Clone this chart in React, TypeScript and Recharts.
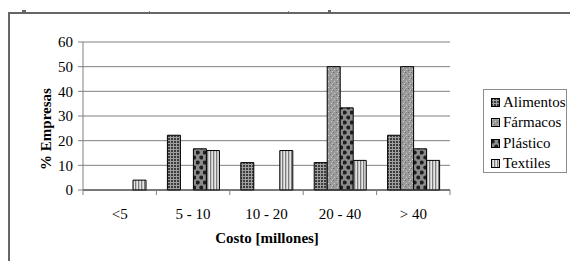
import React from 'react';
import { BarChart, Bar, XAxis, YAxis, CartesianGrid, Legend } from 'recharts';

const categories = ['<5', '5 - 10', '10 - 20', '20 - 40', '> 40'];
const alimentos = [0, 22.2, 11.1, 11.1, 22.2];
const farmacos = [0, 0, 0, 50, 50];
const plastico = [0, 16.7, 0, 33.3, 16.7];
const textiles = [4, 16, 16, 12, 12];
const yTicks = [0, 10, 20, 30, 40, 50, 60];

const seriesNames = ['Alimentos', 'Fármacos', 'Plástico', 'Textiles'];
const seriesPatterns = ['patAlim', 'patFarm', 'patPlas', 'patText'];

const data = categories.map((c, i) => ({
  cat: c,
  Alimentos: alimentos[i],
  'Fármacos': farmacos[i],
  'Plástico': plastico[i],
  Textiles: textiles[i],
}));

const FONT = "'Liberation Serif', Tinos, 'Times New Roman', Times, 'DejaVu Serif', serif";

const Patterns = () => (
  <svg width={0} height={0} style={{ position: 'absolute' }}>
    <defs>
      <pattern id="patAlim" width={3} height={3} patternUnits="userSpaceOnUse">
        <rect width={3} height={3} fill="#a0a0a0" />
        <rect width={2} height={2} fill="#3c3c3c" />
      </pattern>
      <pattern id="patFarm" width={6} height={6} patternUnits="userSpaceOnUse">
        <rect width={6} height={6} fill="#9a9a9a" />
        <rect x={1} y={1} width={1} height={1} fill="#d0d0d0" />
        <rect x={4} y={3} width={1} height={1} fill="#d0d0d0" />
        <rect x={2} y={5} width={1} height={1} fill="#c8c8c8" />
        <rect x={3} y={0} width={1} height={1} fill="#6c6c6c" />
        <rect x={0} y={4} width={1} height={1} fill="#6c6c6c" />
      </pattern>
      <pattern id="patPlas" width={7} height={10} patternUnits="userSpaceOnUse">
        <rect width={7} height={10} fill="#8c8c8c" />
        <circle cx={1.75} cy={2.5} r={2} fill="#1e1e1e" />
        <circle cx={5.25} cy={7.5} r={2} fill="#1e1e1e" />
      </pattern>
      <pattern id="patText" width={3} height={3} patternUnits="userSpaceOnUse">
        <rect width={3} height={3} fill="#e6e6e6" />
        <rect x={0} width={1.3} height={3} fill="#7c7c7c" />
      </pattern>
    </defs>
  </svg>
);

const XTick = (props: any) => {
  const { x, y, payload, index } = props;
  const half = payload && payload.offset ? payload.offset : 0;
  return (
    <g>
      <line x1={x - half} x2={x - half} y1={y} y2={y + 5} stroke="#808080" />
      {index === categories.length - 1 && (
        <line x1={x + half} x2={x + half} y1={y} y2={y + 5} stroke="#808080" />
      )}
      <text x={x} y={y + 29} textAnchor="middle" fontSize={15} fill="#000" style={{ fontFamily: FONT }}>
        {payload.value}
      </text>
    </g>
  );
};

const LegendBox = () => (
  <div
    style={{
      boxSizing: 'border-box',
      width: 84,
      height: 84,
      border: '1px solid #8c8c8c',
      background: '#fff',
      paddingTop: 2,
      fontFamily: FONT,
      fontSize: 15,
      color: '#000',
    }}
  >
    {seriesNames.map((n, i) => (
      <div key={n} style={{ height: 20.5, display: 'flex', alignItems: 'center', paddingLeft: 7 }}>
        <svg width={9} height={9} style={{ marginRight: 3 }}>
          <rect x={0.5} y={0.5} width={8} height={8} fill={`url(#${seriesPatterns[i]})`} stroke="#000" />
        </svg>
        <span style={{ lineHeight: '15px' }}>{n}</span>
      </div>
    ))}
  </div>
);

export default function App() {
  return (
    <div style={{ position: 'absolute', left: 0, top: 0, width: 570, height: 261, background: '#fff', fontFamily: FONT }}>
      <Patterns />
      <div
        style={{
          position: 'absolute',
          left: 8,
          top: 12,
          width: 562,
          height: 249,
          borderLeft: '2px solid #666',
          borderTop: '2px solid #666',
          boxSizing: 'border-box',
        }}
      />
      <div style={{ position: 'absolute', left: 22, top: 10, width: 4, height: 2, background: '#666' }} />
      <div style={{ position: 'absolute', left: 149, top: 11, width: 1, height: 1, background: '#888' }} />
      <div style={{ position: 'absolute', left: 288, top: 11, width: 1, height: 1, background: '#888' }} />
      <div style={{ position: 'absolute', left: 328, top: 10, width: 3, height: 2, background: '#666' }} />
      <div style={{ position: 'absolute', left: 0, top: 0 }}>
        <BarChart
          width={570}
          height={261}
          data={data}
          margin={{ top: 42, right: 120, bottom: 21, left: 40 }}
          barCategoryGap="15%"
          barGap={0}
          style={{ fontFamily: FONT }}
        >
          <CartesianGrid horizontal vertical={false} stroke="#808080" />
          <XAxis
            dataKey="cat"
            height={50}
            interval={0}
            tickSize={0}
            tickMargin={0}
            tickLine={false}
            axisLine={{ stroke: '#333' }}
            tick={<XTick />}
          />
          <YAxis
            width={43}
            domain={[0, 60]}
            ticks={yTicks}
            interval={0}
            tickSize={5}
            tickMargin={5}
            axisLine={{ stroke: '#808080' }}
            tickLine={{ stroke: '#808080' }}
            tick={{ fontSize: 15, fill: '#000', style: { fontFamily: FONT } }}
          />
          <YAxis
            yAxisId="r"
            orientation="right"
            width={0}
            domain={[0, 60]}
            tick={false}
            tickLine={false}
            axisLine={{ stroke: '#808080' }}
          />
          {seriesNames.map((n, i) => (
            <Bar
              key={n}
              dataKey={n}
              fill={`url(#${seriesPatterns[i]})`}
              stroke="#000"
              strokeWidth={1}
              isAnimationActive={false}
            />
          ))}
          <Legend
            layout="vertical"
            align="center"
            verticalAlign="middle"
            wrapperStyle={{ position: 'absolute', left: 483, top: 89, width: 84, height: 84 }}
            content={() => <LegendBox />}
          />
          <text
            x={51}
            y={129}
            transform="rotate(-90, 51, 129)"
            textAnchor="middle"
            fontSize={15}
            fontWeight="bold"
            style={{ fontFamily: FONT }}
            fill="#000"
          >
            % Empresas
          </text>
          <text x={267} y={243} textAnchor="middle" fontSize={15} fontWeight="bold" style={{ fontFamily: FONT }} fill="#000">
            Costo [millones]
          </text>
        </BarChart>
      </div>
    </div>
  );
}
